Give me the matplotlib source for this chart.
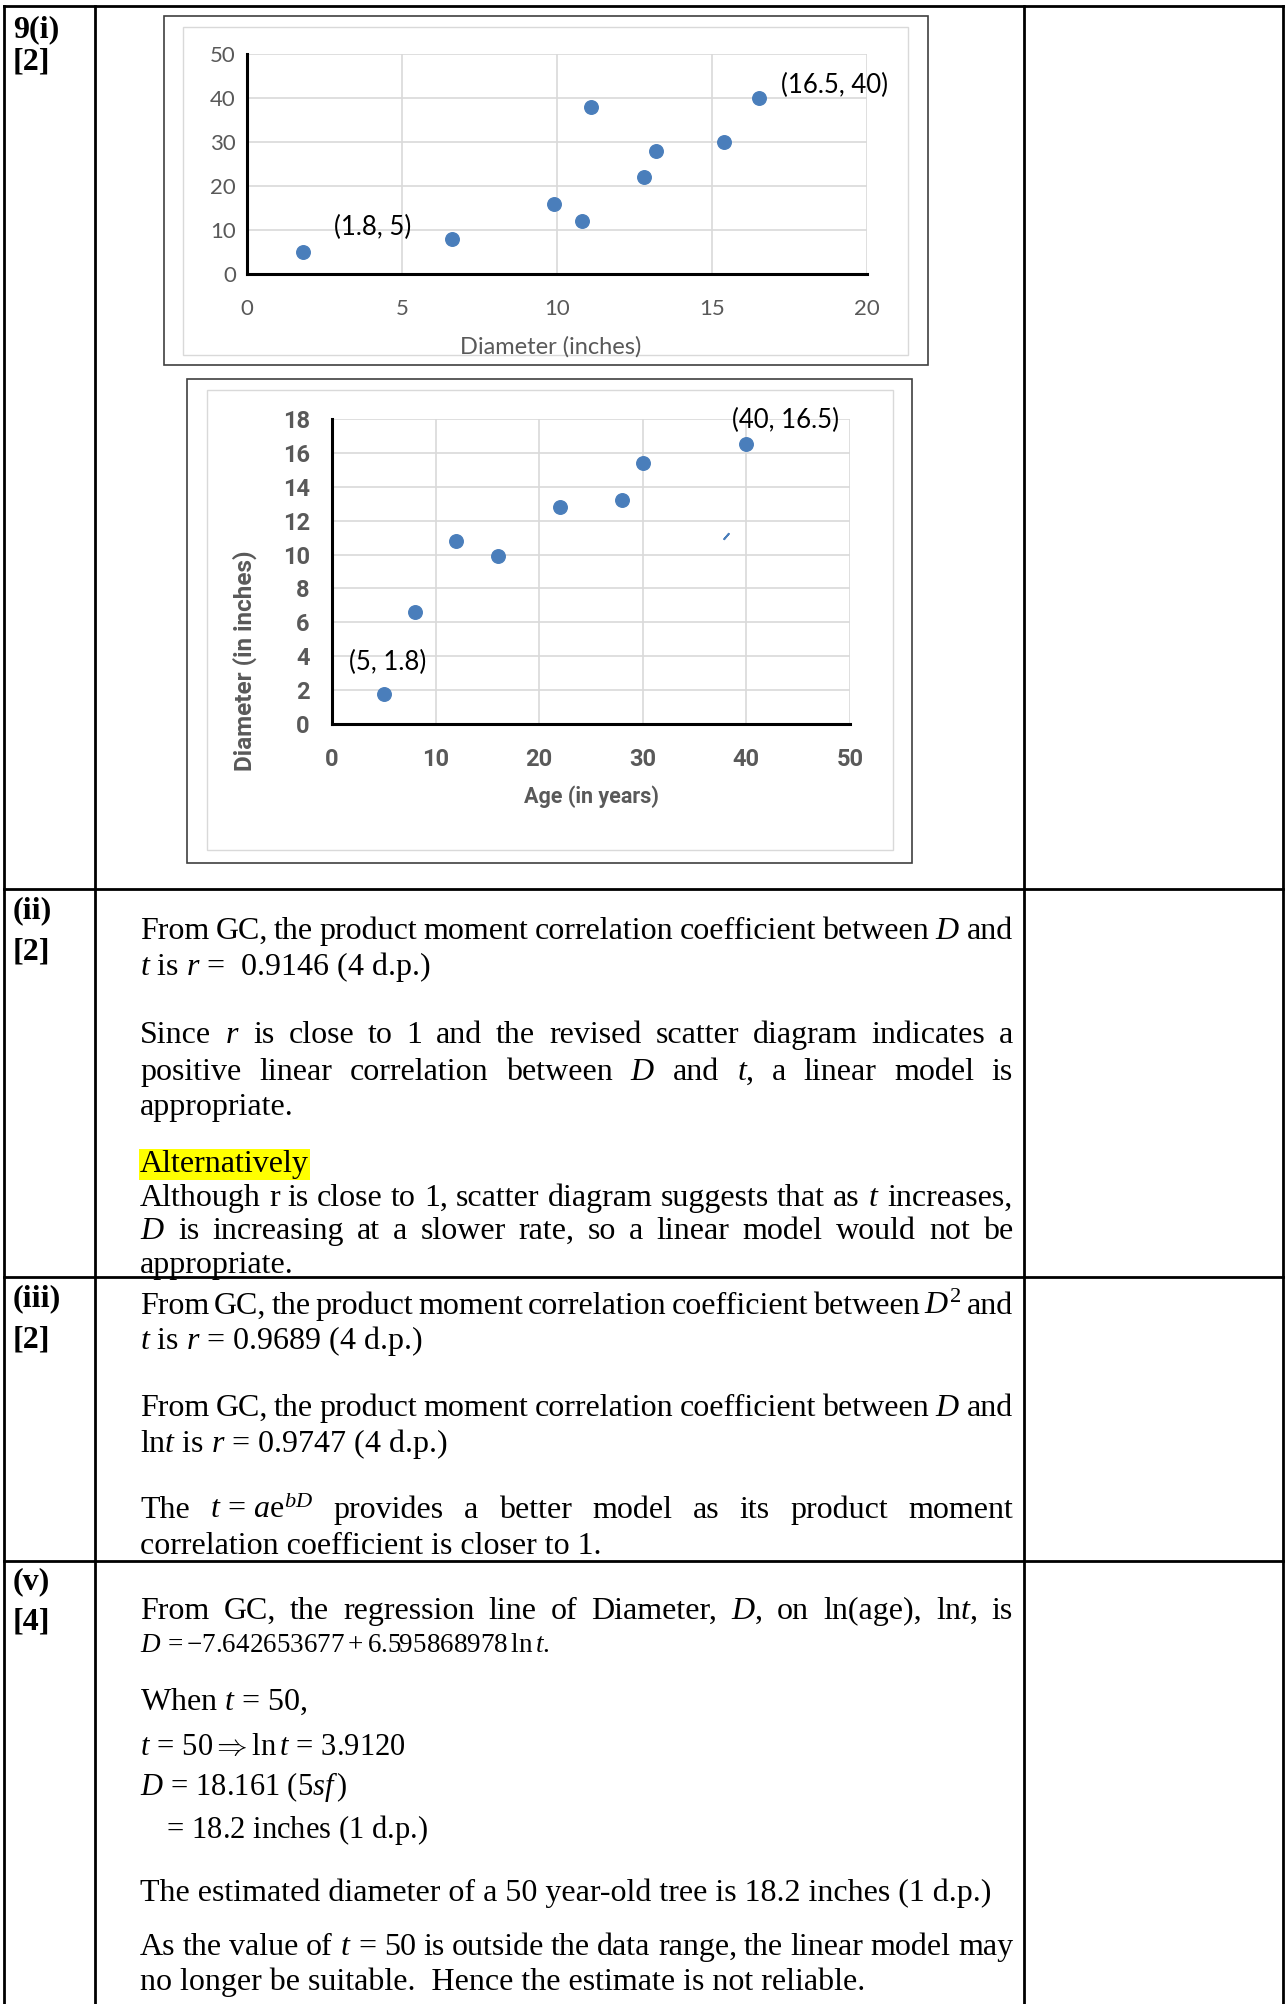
import matplotlib
matplotlib.use('Agg')
import matplotlib.pyplot as plt
from matplotlib.patches import Rectangle

# data
diameter = [1.8, 6.6, 9.9, 10.8, 11.1, 12.8, 13.2, 15.4, 16.5]
age = [5, 8, 16, 12, 38, 22, 28, 30, 40]

# revised diagram (outlier removed), age on x
age_rev = [5, 8, 12, 16, 22, 28, 30, 40]
diam_rev = [1.8, 6.6, 10.8, 9.9, 12.8, 13.2, 15.4, 16.5]
erased_age = [38]
erased_diam = [11.1]

x1_ticks = [0, 5, 10, 15, 20]
y1_ticks = [0, 10, 20, 30, 40, 50]
x2_ticks = [0, 10, 20, 30, 40, 50]
y2_ticks = [0, 2, 4, 6, 8, 10, 12, 14, 16, 18]

W, H = 1288, 2004
BLUE = '#4A7EBB'
GREY = '#595959'
SERIF = ['Liberation Serif', 'DejaVu Serif']
SANS = ['Lato', 'DejaVu Sans']
SANS_B = ['Roboto', 'DejaVu Sans']

plt.rcParams['mathtext.fontset'] = 'custom'
plt.rcParams['mathtext.rm'] = 'Liberation Serif'
plt.rcParams['mathtext.it'] = 'Liberation Serif:italic'
plt.rcParams['mathtext.bf'] = 'Liberation Serif:bold'

fig = plt.figure(figsize=(W / 100, H / 100), dpi=100)
fig.patch.set_facecolor('white')

# overlay in pixel coordinates for the table and the text
bg = fig.add_axes([0, 0, 1, 1])
bg.set_xlim(0, W)
bg.set_ylim(H, 0)
bg.axis('off')

lw = 2.0
for x in [4, 95, 1024, 1283]:
    bg.plot([x, x], [6, H], color='black', lw=lw)
for y in [6, 889, 1277, 1561]:
    bg.plot([4, 1283], [y, y], color='black', lw=lw)

# chart frames
bg.add_patch(Rectangle((164, 16), 764, 349, fill=False, ec='#404040', lw=1.2))
bg.add_patch(Rectangle((183, 27), 725, 328, fill=False, ec='#D9D9D9', lw=1.0))
bg.add_patch(Rectangle((187, 379), 725, 484, fill=False, ec='#404040', lw=1.2))
bg.add_patch(Rectangle((207, 390), 686, 460, fill=False, ec='#D9D9D9', lw=1.0))


def axes_px(left, top, right, bottom):
    return fig.add_axes([left / W, 1 - bottom / H, (right - left) / W, (bottom - top) / H])


def style(ax, xt, yt, size, weight, fam):
    ax.set_xticks(xt, [str(v) for v in xt], fontsize=size, fontweight=weight,
                  family=fam, color=GREY)
    ax.set_yticks(yt, [str(v) for v in yt], fontsize=size, fontweight=weight,
                  family=fam, color=GREY)
    ax.grid(True, color='#D9D9D9', lw=1.2)
    ax.set_axisbelow(True)
    for s in ['top', 'right']:
        ax.spines[s].set_visible(False)
    for s in ['left', 'bottom']:
        ax.spines[s].set_linewidth(2.2)
        ax.spines[s].set_color('black')
    ax.tick_params(length=0)


# chart 1: age against diameter
ax1 = axes_px(247, 54, 867, 274)
ax1.scatter(diameter, age, s=95, color=BLUE, zorder=3, clip_on=False)
ax1.set_xlim(0, 20)
ax1.set_ylim(0, 50)
style(ax1, x1_ticks, y1_ticks, 16, 'normal', SANS)
ax1.tick_params(axis='x', pad=18)
ax1.tick_params(axis='y', pad=8)
ax1.set_xlabel('Diameter (inches)', fontsize=17, color=GREY, family=SANS)
ax1.xaxis.set_label_coords(0.49, -0.28)
ax1.annotate('(1.8, 5)', (diameter[0], age[0]), xytext=(50, 18), textcoords='offset points',
             ha='center', va='center', fontsize=18.5, family=SANS)
ax1.annotate('(16.5, 40)', (diameter[-1], age[-1]), xytext=(55, 9), textcoords='offset points',
             ha='center', va='center', fontsize=18.5, family=SANS)

# chart 2: revised, diameter against age
ax2 = axes_px(332, 419, 850, 724)
ax2.scatter(age_rev, diam_rev, s=95, color=BLUE, zorder=3, clip_on=False)
ax2.plot(erased_age, erased_diam, marker=(2, 2, -40), ms=6, mew=1.3, color=BLUE, ls='none')
ax2.set_xlim(0, 50)
ax2.set_ylim(0, 18)
style(ax2, x2_ticks, y2_ticks, 17, 'bold', SANS_B)
ax2.tick_params(axis='x', pad=17)
ax2.tick_params(axis='y', pad=16)
ax2.set_xlabel('Age (in years)', fontsize=15.5, color=GREY, family=SANS_B, fontweight='bold')
ax2.xaxis.set_label_coords(0.5, -0.2)
ax2.set_ylabel('Diameter (in inches)', fontsize=17.5, color=GREY, family=SANS_B,
               fontweight='bold', va='center')
ax2.yaxis.set_label_coords(-0.168, 0.207)
ax2.annotate('(5, 1.8)', (age_rev[0], diam_rev[0]), xytext=(3, 22), textcoords='offset points',
             ha='center', va='center', fontsize=18.5, family=SANS)
ax2.annotate('(40, 16.5)', (age_rev[-1], diam_rev[-1]), xytext=(28, 17), textcoords='offset points',
             ha='center', va='center', fontsize=18.5, family=SANS)

# worked solution text
renderer = fig.canvas.get_renderer()
FS = 23
FM = 22
X0, X1 = 140, 1013

labels = [(27, '9(i)'), (59, '[2]'), (908, '(ii)'), (949, '[2]'),
          (1296, '(iii)'), (1338, '[2]'), (1579, '(v)'), (1620, '[4]')]
for y, s in labels:
    bg.text(13, y + 10, s, fontsize=FS, family=SERIF, fontweight='bold', va='baseline')

lines = [
    (929, 'From GC, the product moment correlation coefficient between $D$ and', True, FS),
    (965, '$t$ is $r$ =  0.9146 (4 d.p.)', False, FS),
    (1033, 'Since $r$ is close to 1 and the revised scatter diagram indicates a', True, FS),
    (1070, 'positive linear correlation between $D$ and $t$, a linear model is', True, FS),
    (1105, 'appropriate.', False, FS),
    (1196, 'Although r is close to 1, scatter diagram suggests that as $t$ increases,', True, FS),
    (1229, '$D$ is increasing at a slower rate, so a linear model would not be', True, FS),
    (1263, 'appropriate.', False, FS),
    (1304, 'From GC, the product moment correlation coefficient between $D^2$ and', True, FS),
    (1339, '$t$ is $r$ = 0.9689 (4 d.p.)', False, FS),
    (1406, 'From GC, the product moment correlation coefficient between $D$ and', True, FS),
    (1442, 'ln$t$ is $r$ = 0.9747 (4 d.p.)', False, FS),
    (1508, 'The $t\\,=\\,a\\mathrm{e}^{bD}$ provides a better model as its product moment', True, FS),
    (1544, 'correlation coefficient is closer to 1.', False, FS),
    (1609, 'From GC, the regression line of Diameter, $D$, on ln(age), ln$t$, is', True, FS),
    (1642, '$D\\,=-7.642653677+6.595868978\\,\\ln t$.', False, 19.5),
    (1700, 'When $t$ = 50,', False, FS),
    (1745, '$t\\,=\\,50\\Rightarrow\\ln t\\,=\\,3.9120$', False, FM),
    (1785, '$D\\,=\\,18.161\\ (5sf\\,)$', False, FM),
    (1891, 'The estimated diameter of a 50 year-old tree is 18.2 inches (1 d.p.)', False, FS),
    (1945, 'As the value of $t$ = 50 is outside the data range, the linear model may', True, FS),
    (1980, 'no longer be suitable.  Hence the estimate is not reliable.', False, FS),
]


def put_line(y, s, justify, fs, x0=X0):
    kw = dict(fontsize=fs, family=SERIF, va='baseline', ha='left')
    if not justify:
        bg.text(x0, y, s, **kw)
        return
    words = s.split()
    arts = [bg.text(0, y, w, **kw) for w in words]
    widths = [a.get_window_extent(renderer).width for a in arts]
    gap = (X1 - x0 - sum(widths)) / (len(words) - 1)
    x = x0
    for a, w in zip(arts, widths):
        a.set_x(x)
        x += w + gap


for y, s, j, fs in lines:
    put_line(y + 10, s, j, fs)

put_line(1828 + 10, '$=\\,18.2$ inches (1 d.p.)', False, FM, x0=X0 + 22)
bg.text(X0, 1162 + 10, 'Alternatively', fontsize=FS, family=SERIF, va='baseline',
        bbox=dict(boxstyle='square,pad=0.02', fc='#FFFF00', ec='none'))

plt.savefig('out.png', dpi=100)
